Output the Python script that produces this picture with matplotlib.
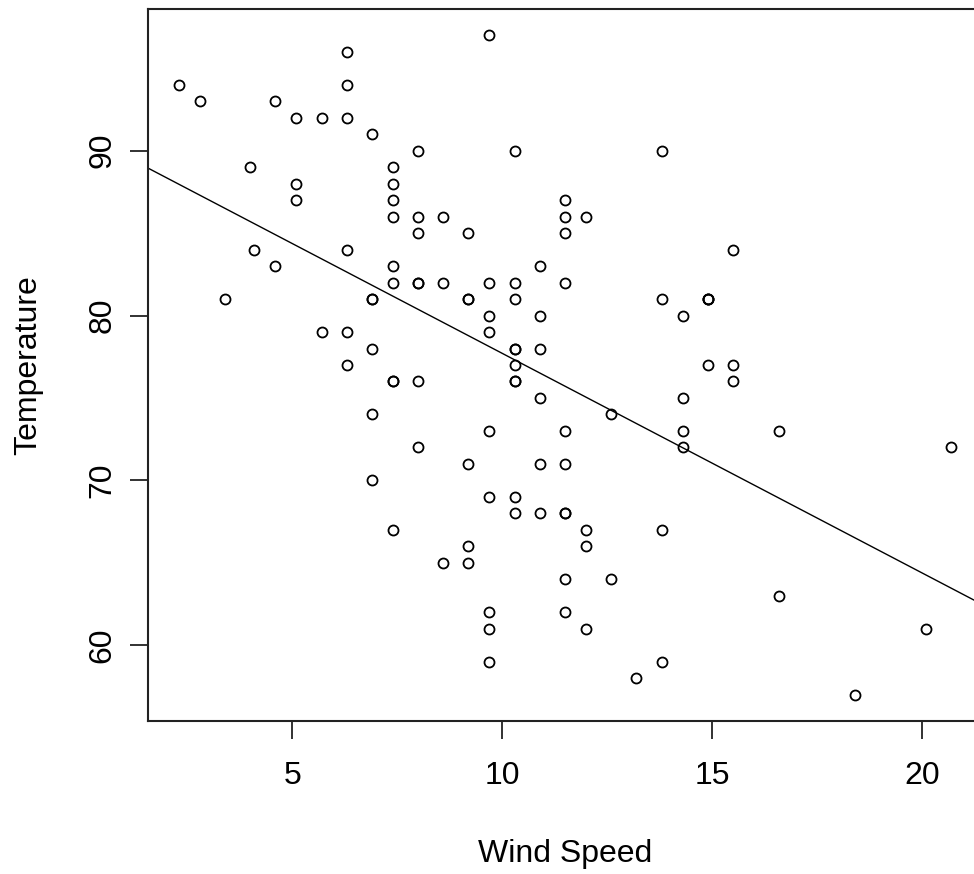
import numpy as np
import matplotlib
matplotlib.use("Agg")
import matplotlib.pyplot as plt

plt.rcParams['font.family'] = ['Liberation Sans', 'DejaVu Sans']

# wind speed / temperature pairs (complete observations)
wind = [7.4, 8.0, 12.6, 11.5, 8.6, 13.8, 20.1, 9.7, 9.2, 10.9, 13.2, 11.5, 12.0, 18.4,
        11.5, 9.7, 9.7, 16.6, 9.7, 12.0, 12.0, 14.9, 5.7, 7.4, 9.7, 13.8, 11.5, 8.0,
        14.9, 20.7, 9.2, 11.5, 10.3, 4.1, 9.2, 9.2, 4.6, 10.9, 5.1, 6.3, 5.7, 7.4,
        14.3, 14.9, 14.3, 6.9, 10.3, 6.3, 5.1, 11.5, 6.9, 8.6, 8.0, 8.6, 12.0, 7.4,
        7.4, 7.4, 9.2, 6.9, 13.8, 7.4, 4.0, 10.3, 8.0, 11.5, 11.5, 9.7, 10.3, 6.3,
        7.4, 10.9, 10.3, 15.5, 14.3, 9.7, 3.4, 8.0, 9.7, 2.3, 6.3, 6.3, 6.9, 5.1,
        2.8, 4.6, 7.4, 15.5, 10.9, 10.3, 10.9, 9.7, 14.9, 15.5, 6.3, 10.9, 11.5, 6.9,
        13.8, 10.3, 10.3, 8.0, 12.6, 9.2, 10.3, 10.3, 16.6, 6.9, 14.3, 8.0, 11.5]
temp = [67, 72, 74, 62, 65, 59, 61, 69, 66, 68, 58, 64, 66, 57,
        68, 62, 59, 73, 61, 61, 67, 81, 79, 76, 82, 90, 87, 82,
        77, 72, 65, 73, 76, 84, 85, 81, 83, 83, 88, 92, 92, 89,
        73, 81, 80, 81, 82, 84, 87, 85, 74, 86, 85, 82, 86, 88,
        86, 83, 81, 81, 81, 82, 89, 90, 90, 86, 82, 80, 77, 79,
        76, 78, 78, 77, 72, 79, 81, 86, 97, 94, 96, 94, 91, 92,
        93, 93, 87, 84, 80, 78, 75, 73, 81, 76, 77, 71, 71, 78,
        67, 76, 68, 82, 64, 71, 81, 69, 63, 70, 75, 76, 68]

x = np.array(wind)
y = np.array(temp)
slope, intercept = np.polyfit(x, y, 1)

fig = plt.figure(figsize=(9.74, 8.74), dpi=100)
ax = fig.add_axes([148 / 974, (874 - 721) / 874, (982 - 148) / 974, (721 - 9) / 874])

ax.plot(x, y, 'o', markerfacecolor='none', markeredgecolor='black',
        markersize=7.2, markeredgewidth=1.3, linestyle='none')

xr = x.max() - x.min()
yr = y.max() - y.min()
xlim = (x.min() - 0.04 * xr, x.max() + 0.04 * xr)
ylim = (y.min() - 0.04 * yr, y.max() + 0.04 * yr)
ax.set_xlim(xlim)
ax.set_ylim(ylim)

# regression line across the whole plot region
xx = np.array(xlim)
ax.plot(xx, intercept + slope * xx, color='black', linewidth=1.0)

ax.set_xticks([5, 10, 15, 20])
ax.set_yticks([60, 70, 80, 90])
ax.tick_params(direction='out', length=13, width=1.3, labelsize=23, color='#222222')
ax.tick_params(axis='x', pad=16)
ax.tick_params(axis='y', pad=9)
for lab in ax.get_yticklabels():
    lab.set_rotation(90)
    lab.set_va('center')

for s in ax.spines.values():
    s.set_linewidth(1.5)
    s.set_color('#222222')

fig.text(0.5 * (148 + 982) / 974, (874 - 862) / 874, 'Wind Speed',
         ha='center', va='baseline', fontsize=23)
fig.text(13 / 974, (874 - 365) / 874, 'Temperature', rotation=90,
         ha='left', va='center', fontsize=23)

fig.savefig('out.png', dpi=100)
